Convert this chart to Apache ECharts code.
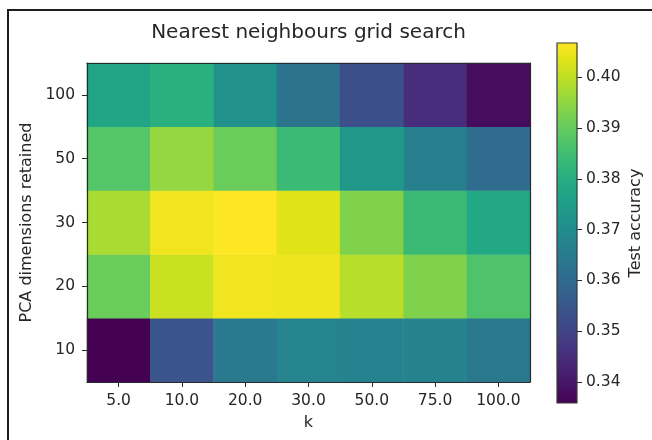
<!DOCTYPE html>
<html>
<head>
<meta charset="utf-8">
<title>Nearest neighbours grid search</title>
<script src="https://cdn.jsdelivr.net/npm/echarts@6/dist/echarts.min.js"></script>
<style>
  html, body { margin: 0; padding: 0; background: #fff; overflow: hidden; }
  .edge { position: absolute; background: #1c1c1c; }
  #edge-top { left: 7px; top: 9px; width: 645px; height: 2px; }
  #edge-left { left: 7px; top: 9px; width: 2px; height: 431px; }
  #chart { position: absolute; left: 0; top: 0; width: 652px; height: 440px; }
</style>
</head>
<body>
<div class="edge" id="edge-top"></div>
<div class="edge" id="edge-left"></div>
<div id="chart"></div>
<script>
// k values (columns) and retained PCA dimensions (rows, bottom to top)
const kValues = ['5.0', '10.0', '20.0', '30.0', '50.0', '75.0', '100.0'];
const pcaDims = ['10', '20', '30', '50', '100'];

// Test accuracy per PCA setting, one entry per k
const acc10  = [0.3359, 0.3543, 0.3649, 0.3678, 0.3671, 0.3674, 0.3642];
const acc20  = [0.3904, 0.4010, 0.4053, 0.4049, 0.3989, 0.3932, 0.3869];
const acc30  = [0.3975, 0.4053, 0.4067, 0.4032, 0.3932, 0.3840, 0.3784];
const acc50  = [0.3876, 0.3954, 0.3904, 0.3840, 0.3734, 0.3663, 0.3607];
const acc100 = [0.3777, 0.3805, 0.3713, 0.3628, 0.3529, 0.3451, 0.3380];

// Colorbar tick labels
const colorbarTicks = [0.34, 0.35, 0.36, 0.37, 0.38, 0.39, 0.40];

const rows = [acc10, acc20, acc30, acc50, acc100];
const cells = [];
rows.forEach((row, yi) => row.forEach((v, xi) => cells.push([xi, yi, v])));
const allVals = rows.flat();
const vmin = Math.min(...allVals);
const vmax = Math.max(...allVals);

const viridis = ['#440154', '#471365', '#482475', '#463480', '#414487', '#3b528b',
  '#355f8d', '#2f6c8e', '#2a788e', '#25848e', '#21918c', '#1e9c89', '#22a884',
  '#2fb47c', '#44bf70', '#5ec962', '#7ad151', '#9bd93c', '#bddf26', '#dfe318', '#fde725'];

const FONT = 'DejaVu Sans';
const TXT = '#262626';

const chart = echarts.init(document.getElementById('chart'), null, { renderer: 'canvas' });

const plainAxis = {
  axisLine: { show: true, lineStyle: { color: '#2a2a2a', width: 1.2 } },
  axisTick: { show: false },
  axisLabel: { show: false },
  splitLine: { show: false },
  z: 10
};

chart.setOption({
  animation: false,
  backgroundColor: 'transparent',
  title: {
    text: 'Nearest neighbours grid search',
    left: 308.5, textAlign: 'center', top: 23, padding: 0,
    textStyle: { fontFamily: FONT, fontSize: 20, fontWeight: 'normal', color: TXT }
  },
  grid: [
    { left: 87, top: 63, width: 443, height: 319 },
    { left: 557, top: 43, width: 20, height: 360 }
  ],
  xAxis: [
    {
      type: 'category', gridIndex: 0, data: kValues, position: 'bottom',
      name: 'k', nameLocation: 'middle', nameGap: 33,
      nameTextStyle: { fontFamily: FONT, fontSize: 16, color: TXT },
      axisLine: { show: true, lineStyle: { color: '#2a2a2a', width: 1.2 } },
      axisTick: { show: true, alignWithLabel: true, inside: false, length: 5, lineStyle: { color: '#2a2a2a' } },
      axisLabel: { fontFamily: FONT, fontSize: 15.5, color: TXT, margin: 11 },
      splitLine: { show: false }, z: 10
    },
    Object.assign({ type: 'category', gridIndex: 0, data: kValues, position: 'top' }, plainAxis),
    {
      type: 'category', gridIndex: 1, data: ['bar'], show: true,
      axisLine: { show: false }, axisTick: { show: false }, axisLabel: { show: false }
    }
  ],
  yAxis: [
    {
      type: 'category', gridIndex: 0, data: pcaDims, position: 'left',
      name: 'PCA dimensions retained', nameLocation: 'middle', nameGap: 51, nameRotate: 90,
      nameTextStyle: { fontFamily: FONT, fontSize: 16, color: TXT },
      axisLine: { show: true, lineStyle: { color: '#2a2a2a', width: 1.2 } },
      axisTick: { show: true, alignWithLabel: true, length: 5, lineStyle: { color: '#2a2a2a' } },
      axisLabel: { fontFamily: FONT, fontSize: 15.5, color: TXT, margin: 12 },
      splitLine: { show: false }, z: 10
    },
    Object.assign({ type: 'category', gridIndex: 0, data: pcaDims, position: 'right' }, plainAxis),
    {
      type: 'value', gridIndex: 1, position: 'right', min: vmin, max: vmax,
      name: 'Test accuracy', nameLocation: 'middle', nameGap: 51, nameRotate: 90,
      nameTextStyle: { fontFamily: FONT, fontSize: 16, color: TXT },
      axisLine: { show: false },
      axisTick: { show: true, length: 5, customValues: colorbarTicks, lineStyle: { color: '#2a2a2a' } },
      axisLabel: { fontFamily: FONT, fontSize: 15.5, color: TXT, margin: 9,
                   customValues: colorbarTicks, formatter: v => v.toFixed(2) },
      splitLine: { show: false }, z: 10
    }
  ],
  visualMap: {
    show: false, type: 'continuous', seriesIndex: 0, dimension: 2,
    min: vmin, max: vmax, inRange: { color: viridis }
  },
  series: [
    {
      type: 'heatmap', xAxisIndex: 0, yAxisIndex: 0, data: cells,
      itemStyle: { borderWidth: 0 }, emphasis: { disabled: true }, progressive: 0
    },
    {
      // colorbar drawn along the accuracy scale
      type: 'custom', xAxisIndex: 2, yAxisIndex: 2, silent: true,
      data: [[0, vmin, vmax]],
      renderItem: function (params, api) {
        const bottom = api.coord([0, api.value(1)]);
        const top = api.coord([0, api.value(2)]);
        const w = api.size([1, 0])[0];
        const stops = viridis.map((c, i) => ({ offset: 1 - i / (viridis.length - 1), color: c }));
        return {
          type: 'rect',
          shape: { x: top[0] - w / 2, y: top[1], width: w, height: bottom[1] - top[1] },
          style: {
            fill: new echarts.graphic.LinearGradient(0, 0, 0, 1, stops.reverse()),
            stroke: '#3a3a3a', lineWidth: 1.2
          }
        };
      }
    }
  ]
});
</script>
</body>
</html>
